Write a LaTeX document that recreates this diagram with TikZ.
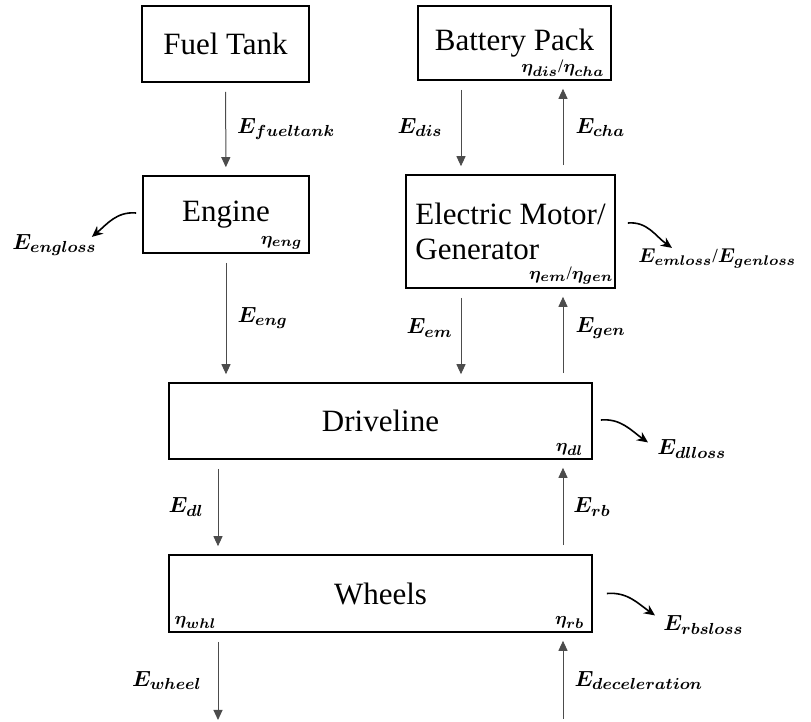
\documentclass[tikz,border=0pt]{standalone}
\usepackage{amsmath}
\usepackage{fontspec}
\setmainfont{Liberation Serif}
\newfontfamily\boxfont{Liberation Serif}
\usetikzlibrary{arrows.meta, positioning}
\tikzset{
  block/.style = {rectangle, draw, line width=0.8pt, inner sep=0pt, align=center, font=\boxfont\fontsize{15.5}{17.5}\selectfont},
  line/.style = {draw=black!70, line width=0.5pt, -{Triangle[width=4.5pt,length=5pt]}, shorten <=4.5pt, shorten >=4pt},
  loss/.style = {draw, line width=0.8pt, -{Stealth[length=5.5pt,width=5pt]}},
  elabel/.style = {inner sep=0pt, font=\fontsize{11}{13}\selectfont},
  eta/.style = {inner sep=0pt, font=\fontsize{9.5}{11}\selectfont}
}
\newcommand{\en}[1]{$\boldsymbol{E_{#1}}$}
\newcommand{\eff}[1]{$\boldsymbol{\eta_{#1}}$}

\begin{document}
\begin{tikzpicture}[x=0.5pt, y=-0.5pt]
    \useasboundingbox (0,0) rectangle (811,722);

    % Energy sources
    \node[block, minimum width=83.5pt, minimum height=38pt] (fuel) at (225.5,44) {Fuel Tank};
    \node[block, minimum width=96.5pt, minimum height=37pt] (batt) at (514.5,43) {Battery Pack};

    % Converters
    \node[block, minimum width=83pt, minimum height=38.5pt] (engine) at (226,214.5) {Engine};
    \node[block, minimum width=104.5pt, minimum height=56.5pt, align=left] (em) at (510.5,231.5) {Electric Motor/\\Generator};
    \node[block, minimum width=211.5pt, minimum height=38pt] (drive) at (380.5,421) {Driveline};
    \node[block, minimum width=211.5pt, minimum height=38.5pt] (wheels) at (380.5,593.5) {Wheels};

    % Efficiencies
    \node[eta, anchor=south east] (etabatt) at ([shift={(-3.5pt,2pt)}]batt.south east) {\eff{dis}/\eff{cha}};
    \node[eta, anchor=south east] (etaeng) at ([shift={(-3.5pt,2pt)}]engine.south east) {\eff{eng}};
    \node[eta, anchor=south east] (etaem) at ([shift={(-1pt,2pt)}]em.south east) {\eff{em}/\eff{gen}};
    \node[eta, anchor=south east] (etadl) at ([shift={(-4.5pt,2pt)}]drive.south east) {\eff{dl}};
    \node[eta, anchor=south west] (etawhl) at ([shift={(3pt,2pt)}]wheels.south west) {\eff{whl}};
    \node[eta, anchor=south east] (etarb) at ([shift={(-4pt,2pt)}]wheels.south east) {\eff{rb}};

    % Columns and free ends
    \coordinate (cA) at (218,0);
    \coordinate (cB) at (461,0);
    \coordinate (cC) at (563,0);
    \coordinate (wout) at (218,728);
    \coordinate (decin) at (563,728);

    % Energy flows
    \path [line] (fuel) -- node[elabel, right=5.5pt] {\en{fueltank}} (engine);
    \path [line] (engine) -- node[elabel, right=5.5pt] {\en{eng}} (engine.south |- drive.north);
    \path [line] (batt.south -| cB) -- node[elabel, left=9pt] {\en{dis}} (em.north -| cB);
    \path [line] (em.north -| cC) -- node[elabel, right=6pt] {\en{cha}} (batt.south -| cC);
    \path [line] (em.south -| cB) -- node[elabel, pos=0.42, left=4pt] {\en{em}} (drive.north -| cB);
    \path [line] (drive.north -| cC) -- node[elabel, pos=0.58, right=6pt] {\en{gen}} (em.south -| cC);
    \path [line] (drive.south -| cA) -- node[elabel, left=7pt] {\en{dl}} (wheels.north -| cA);
    \path [line] (wheels.north -| cC) -- node[elabel, right=5pt] {\en{rb}} (drive.south -| cC);
    \path [line] (wheels.south -| cA) -- node[elabel, left=8pt] {\en{wheel}} (wout);
    \path [line] (decin) -- node[elabel, right=5.5pt] {\en{deceleration}} (wheels.south -| cC);

    % Losses
    \node[elabel, anchor=west] (engloss) at (12,245) {\en{engloss}};
    \node[elabel, anchor=west, font=\fontsize{10}{12}\selectfont] (emloss) at (638,259) {\en{emloss}/\en{genloss}};
    \node[elabel, anchor=west] (dlloss) at (657,449) {\en{dlloss}};
    \node[elabel, anchor=west] (rbsloss) at (663,625) {\en{rbsloss}};

    \draw[loss] ([shift={(-3pt,0.75pt)}]engine.west) to[out=175, in=40] ([shift={(-2.5pt,-1.5pt)}]engloss.north east);
    \draw[loss] ([shift={(6pt,4.25pt)}]em.east) to[out=5, in=145] ([shift={(17pt,0.5pt)}]emloss.north west);
    \draw[loss] ([shift={(4pt,0.5pt)}]drive.east) to[out=5, in=145] ([shift={(-4.5pt,-1.5pt)}]dlloss.north west);
    \draw[loss] ([shift={(7pt,0pt)}]wheels.east) to[out=5, in=145] ([shift={(-4pt,0pt)}]rbsloss.north west);

\end{tikzpicture}
\end{document}
